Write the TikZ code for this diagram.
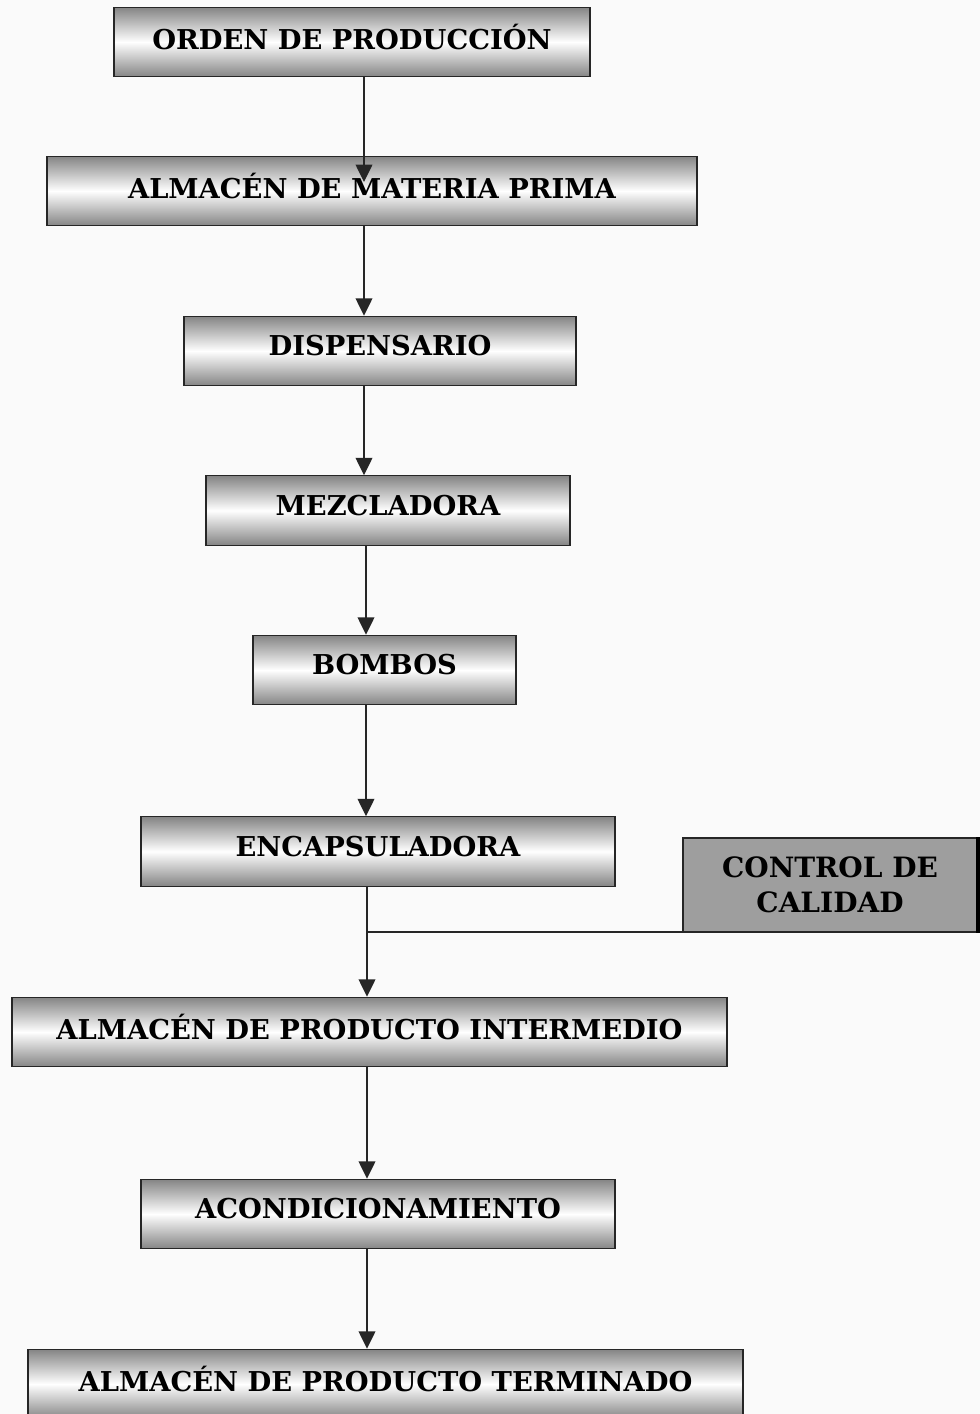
\documentclass[tikz,border=0pt]{standalone}
\usepackage{fontspec}
\setmainfont{DejaVu Serif}
\usetikzlibrary{arrows.meta}
\tikzset{
  box/.style={draw=black!85, line width=0.9pt, top color=black!48, bottom color=black!48, middle color=white,
    font=\bfseries\fontsize{20.5}{24}\selectfont, inner sep=0pt, minimum height=52pt, text depth=8pt},
  ctrlbox/.style={draw=black!85, line width=0.9pt, fill=black!38, align=center,
    font=\bfseries\fontsize{21}{26}\selectfont, inner sep=0pt, minimum width=220.5pt, minimum height=70.5pt},
  flow/.style={draw=black!85, line width=1.1pt, -{Triangle[width=12.5pt,length=13pt]}},
  link/.style={draw=black!85, line width=1.1pt}
}
\begin{document}
\begin{tikzpicture}[x=0.75pt,y=-0.75pt]
\clip (0,0) rectangle (980,1414);
\fill[black!2] (0,0) rectangle (980,1414);
\node[box, minimum width=357pt] (op) at (352,42) {ORDEN DE PRODUCCIÓN};
\node[box, minimum width=487.5pt] (amp) at (372,191) {ALMACÉN DE MATERIA PRIMA};
\node[box, minimum width=294pt] (disp) at (380,351) {DISPENSARIO};
\node[box, minimum width=273pt] (mez) at (388,510.5) {MEZCLADORA};
\node[box, minimum width=197.25pt] (bom) at (384.5,670) {BOMBOS};
\node[box, minimum width=355.5pt] (enc) at (378,851.5) {ENCAPSULADORA};
\node[ctrlbox] (cc) at (830,885) {CONTROL DE\\CALIDAD};
\draw[black, line width=2.6pt] ([xshift=0.4pt]cc.north east) -- ([xshift=0.4pt]cc.south east);
\node[box, minimum width=536.25pt] (api) at (369.5,1032) {ALMACÉN DE PRODUCTO INTERMEDIO};
\node[box, minimum width=355.5pt] (aco) at (378,1214) {ACONDICIONAMIENTO};
\node[box, minimum width=536.25pt] (apt) at (385.5,1384) {ALMACÉN DE PRODUCTO TERMINADO};

\coordinate (xa) at (364,0);
\coordinate (xb) at (366,0);
\coordinate (xc) at (367,0);
\coordinate (tipa) at (364,182);
\coordinate (ccl) at ([yshift=0.6pt]cc.south west);

\draw[flow] (xa |- op.south) -- (tipa);
\draw[flow] (xa |- amp.south) -- (xa |- disp.north);
\draw[flow] (xa |- disp.south) -- (xa |- mez.north);
\draw[flow] (xb |- mez.south) -- (xb |- bom.north);
\draw[flow] (xb |- bom.south) -- (xb |- enc.north);
\draw[flow] (xc |- enc.south) -- (xc |- api.north);
\draw[link] (ccl) -- (xc |- ccl);
\draw[flow] (xc |- api.south) -- (xc |- aco.north);
\draw[flow] (xc |- aco.south) -- (xc |- apt.north);
\end{tikzpicture}
\end{document}
